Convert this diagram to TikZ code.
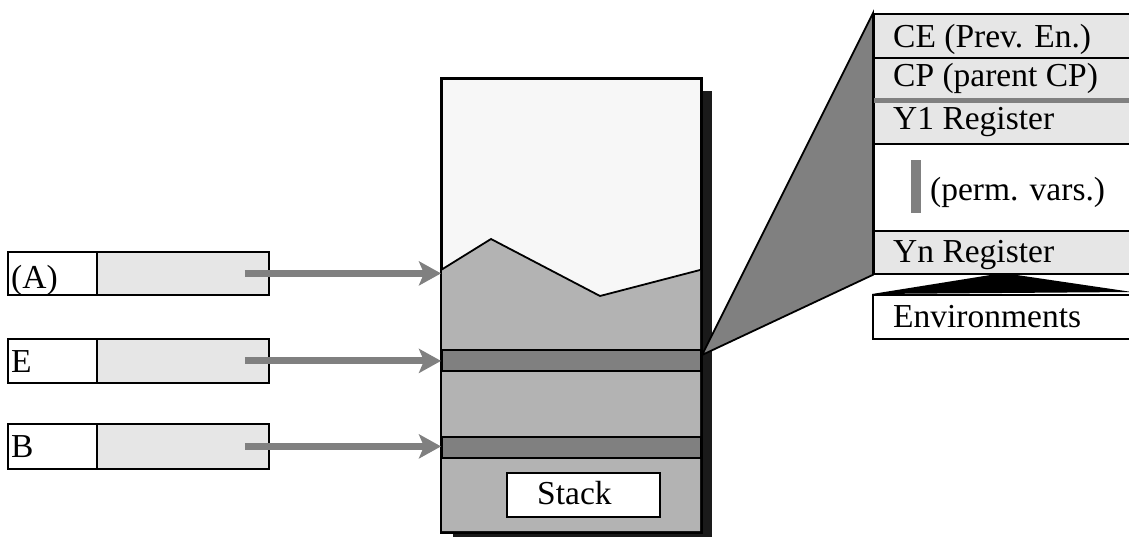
\documentclass[tikz,border=0pt]{standalone}
\usepackage{fontspec}
\setmainfont{Liberation Serif}
\usetikzlibrary{arrows.meta}
\definecolor{cellgray}{HTML}{E6E6E6}
\definecolor{midgray}{HTML}{808080}
\definecolor{stacklight}{HTML}{F7F7F7}
\definecolor{stackgray}{HTML}{B3B3B3}
\definecolor{shadowc}{HTML}{1A1A1A}
\begin{document}
\begin{tikzpicture}[x=1pt,y=-1pt,
  font=\fontsize{33.5}{40}\selectfont,
  box/.style={draw=black, line width=1.8pt, inner sep=0pt, anchor=north west},
  lbl/.style={anchor=base west, inner sep=0pt},
  ptr/.style={draw=midgray, line width=7pt, -{Stealth[length=22pt,width=24pt,inset=5pt]}}]
\useasboundingbox (0,0) rectangle (1129,537);

% left register boxes
\node[box, fill=cellgray, minimum width=172pt, minimum height=43pt] (Ag) at (96,251) {};
\node[box, fill=white, minimum width=89pt, minimum height=43pt] (Aw) at (7,251) {};
\node[lbl] (At) at (11,288) {(A)};
\node[box, fill=cellgray, minimum width=172pt, minimum height=44pt] (Eg) at (96,338) {};
\node[box, fill=white, minimum width=89pt, minimum height=44pt] (Ew) at (7,338) {};
\node[lbl] (Et) at (11,372) {E};
\node[box, fill=cellgray, minimum width=172pt, minimum height=45pt] (Bg) at (96,423) {};
\node[box, fill=white, minimum width=89pt, minimum height=45pt] (Bw) at (7,423) {};
\node[lbl] (Bt) at (11,457) {B};

% stack
\node[fill=shadowc, inner sep=0pt, anchor=north west, minimum width=259pt, minimum height=446pt] (shadow) at (453,91) {};
\node[box, fill=stacklight, minimum width=259pt, minimum height=453pt] (stack) at (441,78) {};
\fill[stackgray] (441,270) -- (491,239) -- (600,296) -- (700,270) -- (700,531) -- (441,531) -- cycle;
\draw[line width=1.8pt] (441,270) -- (491,239) -- (600,296) -- (700,270);
\node[box, fill=midgray, minimum width=259pt, minimum height=21pt] (Eband) at (441,349) {};
\node[box, fill=midgray, minimum width=259pt, minimum height=21pt] (Bband) at (441,436) {};
\draw[line width=1.8pt] (stack.north west) rectangle (stack.south east);
\node[box, fill=white, minimum width=153pt, minimum height=44pt] (stackbox) at (506,472) {};
\node[lbl] (stackt) at (537,504) {Stack};

% arrows
\coordinate (tip) at (702,355);
\draw[ptr] ([xshift=-25pt]Ag.east) -- (Ag.east -| stack.west);
\draw[ptr] ([xshift=-25pt]Eg.east) -- (Eg.east -| stack.west);
\draw[ptr] ([xshift=-25pt]Bg.east) -- (Bg.east -| stack.west);

% environment panel
\node[box, fill=cellgray, minimum width=259pt, minimum height=44pt] (CE) at (873,13) {};
\node[box, fill=cellgray, minimum width=259pt, minimum height=42pt] (CP) at (873,57) {};
\node[box, fill=cellgray, minimum width=259pt, minimum height=42pt] (Y1) at (873,101) {};
\node[box, fill=white, minimum width=259pt, minimum height=87pt] (perm) at (873,143) {};
\node[box, fill=cellgray, minimum width=259pt, minimum height=43pt] (Yn) at (873,230) {};
\draw[midgray, line width=5pt] (CP.south west) -- (CP.south east);
\fill[midgray] (911,160) rectangle (921,213);

\filldraw[fill=midgray, draw=black, line width=1.8pt, line join=miter] (tip) -- (CE.north west) -- (Yn.south west) -- cycle;

\node[lbl] (CEt) at (893,48) {CE (Prev. En.)};
\node[lbl] (CPt) at (893,87) {CP (parent CP)};
\node[lbl] (Y1t) at (893,130) {Y1 Register};
\node[lbl] (permt) at (930,201) {(perm. vars.)};
\node[lbl] (Ynt) at (893,262) {Yn Register};

\coordinate (apex) at (1003,273);
\fill[black] (apex) -- (872,294) -- (1132,292) -- cycle;
\node[box, fill=white, minimum width=260pt, minimum height=44pt] (Env) at (872,294) {};
\node[lbl] (Envt) at (893,327) {Environments};
\end{tikzpicture}
\end{document}
